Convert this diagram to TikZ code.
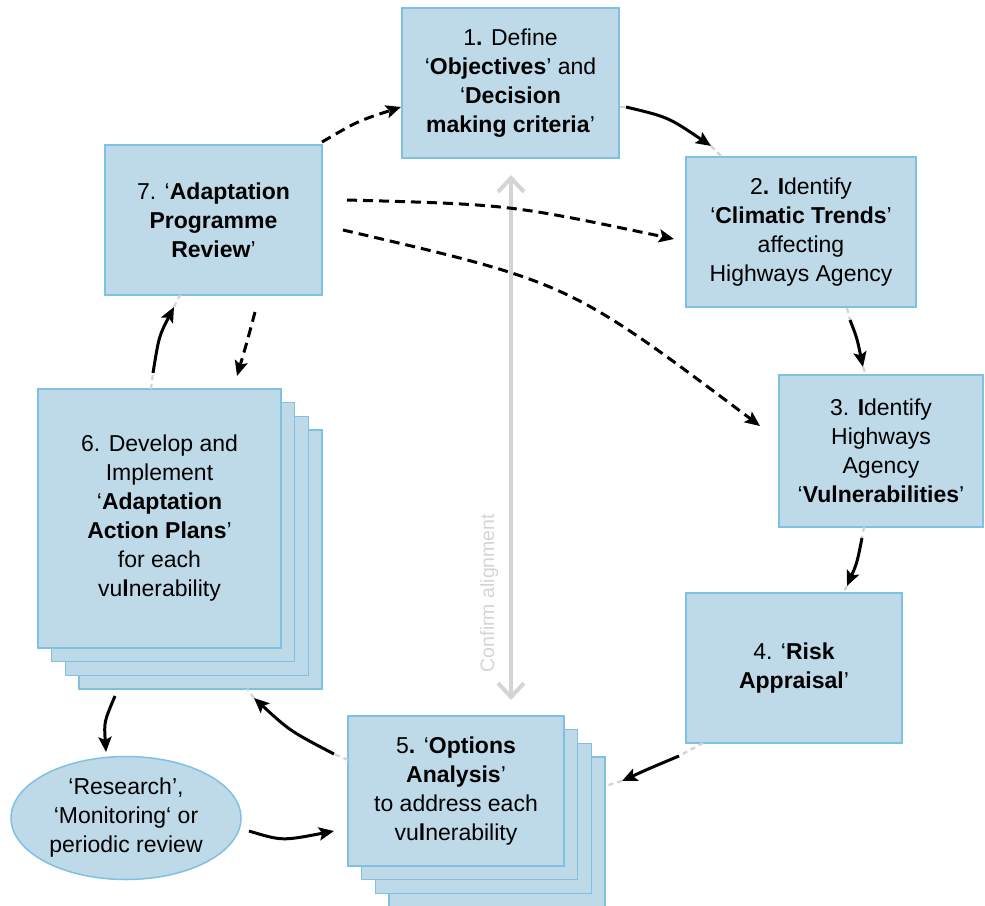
\documentclass[tikz,border=0pt]{standalone}
\usepackage{fontspec}
\setmainfont{Liberation Sans}
\usetikzlibrary{arrows.meta,shapes.geometric}
\definecolor{boxfill}{RGB}{190,218,232}
\definecolor{boxline}{RGB}{128,192,226}
\definecolor{stubgray}{RGB}{210,210,210}
\definecolor{aligngray}{RGB}{212,212,212}
\tikzset{
  boxtxt/.style={font=\fontsize{23}{29}\selectfont},
  stepbox/.style={draw=boxline, fill=boxfill, line width=1.5pt, align=center, inner sep=0pt, boxtxt},
  backbox/.style={draw=boxline, fill=boxfill, line width=1.5pt},
  solidarr/.style={line width=3pt, -{Stealth[length=15pt,width=13pt,inset=3pt]}},
  dasharr/.style={solidarr, dash pattern=on 10pt off 6pt},
  stub/.style={draw=stubgray, line width=2.2pt, dash pattern=on 5pt off 4pt},
}
\begin{document}
\begin{tikzpicture}[x=1pt,y=-1pt]
\useasboundingbox (0,0) rectangle (985,905);
\clip (0,0) rectangle (985,905);

% confirm alignment arrow
\coordinate (caTop) at (511,175);
\coordinate (caBot) at (511,700);
\draw[aligngray, line width=4pt, {Straight Barb[length=14pt,width=26pt]}-{Straight Barb[length=14pt,width=26pt]}] (caTop) -- (caBot);
\node[rotate=90, text=aligngray, font=\fontsize{19.5}{22}\selectfont, anchor=center] (catext) at (489,593) {Confirm alignment};

% stacked back copies
\foreach \k in {3,2,1} {
  \draw[backbox] ({38+13.7*\k},{389+13.7*\k}) rectangle ({281+13.7*\k},{648+13.7*\k});
  \draw[backbox] ({348+13.7*\k},{716+13.7*\k}) rectangle ({564+13.7*\k},{866+13.7*\k});
}

% boxes
\node[stepbox, minimum width=217pt, minimum height=150pt] (b1) at (510.5,83)
  {1\textbf{.} Define\\ ‘\textbf{Objectives}’ and\\ ‘\textbf{Decision}\\ \textbf{making criteria}’};
\node[stepbox, minimum width=230pt, minimum height=150pt] (b2) at (801,232)
  {2\textbf{. I}dentify\\ ‘\textbf{Climatic Trends}’\\ affecting\\ Highways Agency};
\node[stepbox, minimum width=204pt, minimum height=152pt] (b3) at (881,451)
  {3. \textbf{I}dentify\\ Highways\\ Agency\\ ‘\textbf{Vulnerabilities}’};
\node[stepbox, minimum width=216pt, minimum height=150pt] (b4) at (794,668)
  {4. ‘\textbf{Risk}\\ \textbf{Appraisal}’};
\node[stepbox, minimum width=216pt, minimum height=150pt] (b5) at (456,791)
  {5\textbf{.} ‘\textbf{Options}\\ \textbf{Analysis}’\\ to address each\\ vu\textbf{l}nerability};
\node[stepbox, minimum width=243pt, minimum height=259pt] (b6) at (159.5,518.5)
  {6. Develop and\\ Implement\\ ‘\textbf{Adaptation}\\ \textbf{Action Plans}’\\ for each\\ vu\textbf{l}nerability};
\node[stepbox, minimum width=217pt, minimum height=150pt] (b7) at (213.5,220)
  {7. ‘\textbf{Adaptation}\\ \textbf{Programme}\\ \textbf{Review}’};
\node[ellipse, draw=boxline, fill=boxfill, line width=1.5pt, inner sep=0pt, minimum width=230pt, minimum height=123pt, align=center, boxtxt] (res) at (126,818)
  {‘Research’,\\ ‘Monitoring‘ or\\ periodic review};

% arrow end coordinates
\coordinate (a12s) at (626,107); \coordinate (a12e) at (711,146);
\coordinate (a23s) at (850,320); \coordinate (a23e) at (863,367);
\coordinate (a34s) at (862,538); \coordinate (a34e) at (847,586);
\coordinate (a45s) at (679,756); \coordinate (a45e) at (622,781);
\coordinate (a56s) at (334,754); \coordinate (a56e) at (254,698);
\coordinate (a67s) at (153,373); \coordinate (a67e) at (174,307);
\coordinate (a71s) at (322,142); \coordinate (a71e) at (401,107);
\coordinate (a76s) at (255,312); \coordinate (a76e) at (237,376);
\coordinate (a72s) at (347,200); \coordinate (a72e) at (674,239);
\coordinate (a73s) at (343,230); \coordinate (a73e) at (760,426);
\coordinate (a6rs) at (115,696); \coordinate (a6re) at (106,752);
\coordinate (ar5s) at (249,831); \coordinate (ar5e) at (334,831);

% gray stubs (background cycle)
\draw[stub] (b1.east |- a12s) -- (a12s);
\draw[stub] (a12e) -- (722,157);
\draw[stub] (847,308) -- (a23s);
\draw[stub] (a23e) -- (866,375);
\draw[stub] (864,527) -- (a34s);
\draw[stub] (a34e) -- (843,593);
\draw[stub] (703,743) -- (a45s);
\draw[stub] (a45e) -- (605,786);
\draw[stub] (348,760) -- (a56s);
\draw[stub] (a56e) -- (247,689);
\draw[stub] (151,389) -- (a67s);
\draw[stub] (a67e) -- (180,295);

% main cycle arrows
\draw[solidarr] (a12s) .. controls (668,117) .. (a12e);
\draw[solidarr] (a23s) .. controls (857,338) .. (a23e);
\draw[solidarr] (a34s) .. controls (857,563) .. (a34e);
\draw[solidarr] (a45s) .. controls (648,769) .. (a45e);
\draw[solidarr] (a56s) .. controls (290,731) .. (a56e);
\draw[solidarr] (a67s) .. controls (159,336) .. (a67e);

% review arrows (dashed)
\draw[dasharr] (a71s) .. controls (358,121) .. (a71e);
\draw[dasharr] (a76s) .. controls (247,342) .. (a76e);
\draw[dasharr] (a72s) .. controls (510,204.5) .. (a72e);
\draw[dasharr] (a73s) .. controls (569,282.5) .. (a73e);

% research loop
\draw[solidarr] (a6rs) .. controls (104,722) .. (a6re);
\draw[solidarr] (ar5s) .. controls (282,841) .. (ar5e);
\end{tikzpicture}
\end{document}
